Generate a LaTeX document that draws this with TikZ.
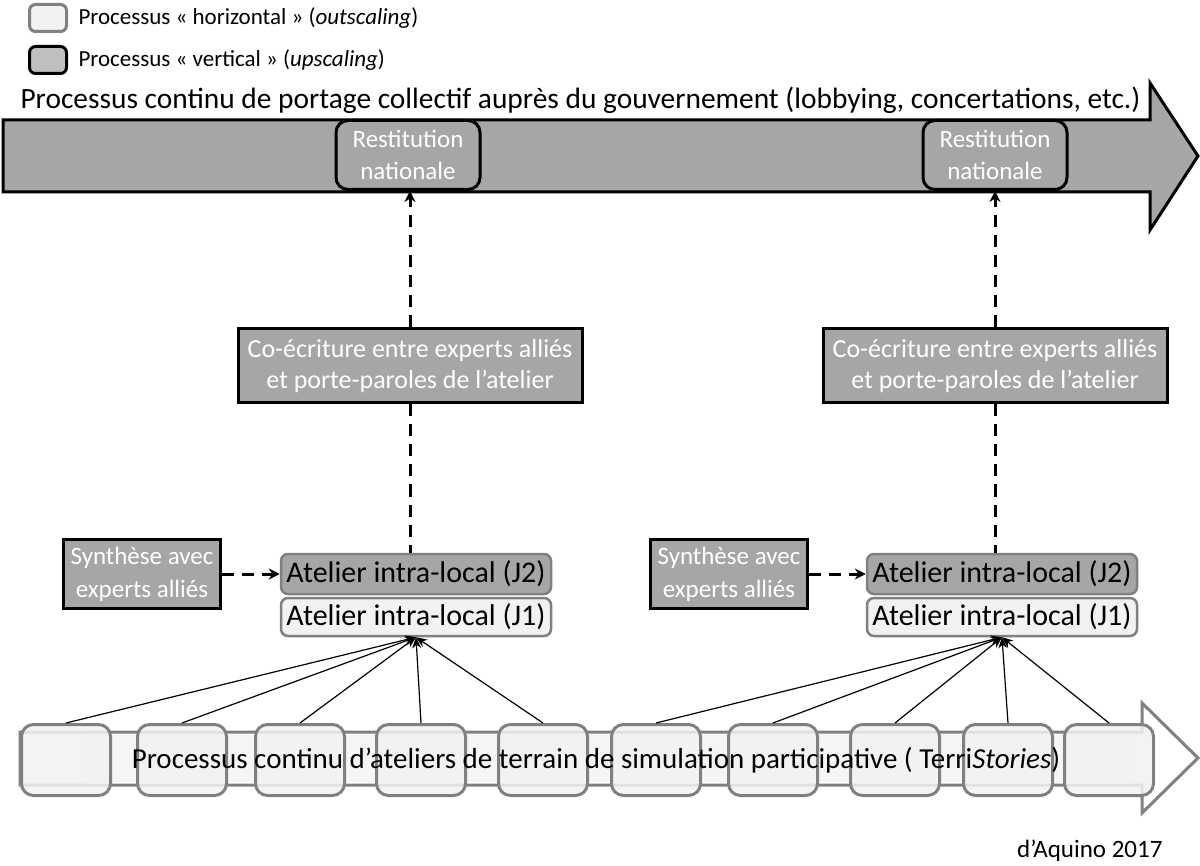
\documentclass[tikz,border=0pt]{standalone}
\usepackage{fontspec}
\setmainfont{Carlito}
\usepackage{xcolor}
\usepackage{tikz}
\usetikzlibrary{arrows.meta}

\definecolor{darkfill}{HTML}{A6A6A6}
\definecolor{legfill}{HTML}{BFBFBF}
\definecolor{lightfill}{HTML}{F2F2F2}
\definecolor{edgegray}{HTML}{808080}

\begin{document}
\begin{tikzpicture}[x=1pt,y=-1pt,
  vertbox/.style={draw=black, line width=3pt, fill=darkfill, text=white, align=center, inner sep=0pt, font=\fontsize{25}{32}\selectfont},
  atelier/.style={draw=edgegray, line width=2.5pt, rounded corners=7pt, inner sep=0pt, minimum width=270pt, font=\fontsize{30}{32}\selectfont},
  stepbox/.style={draw=edgegray, line width=3pt, fill=lightfill, fill opacity=0.85, rounded corners=12pt, minimum width=89pt, minimum height=71pt},
  dashline/.style={line width=3pt, dash pattern=on 12pt off 8pt},
  feed/.style={line width=1.2pt, -{Stealth[length=11pt,width=9pt]}}]
\useasboundingbox (0,0) rectangle (1200,866);

% legende
\node[draw=edgegray, line width=3pt, fill=lightfill, rounded corners=6pt, minimum width=37pt, minimum height=27pt] (legH) at (48,18) {};
\node[anchor=west, font=\fontsize{23}{26}\selectfont] (legHtxt) at (75,18) {Processus « horizontal » (\textit{outscaling})};
\node[draw=black, line width=3pt, fill=legfill, rounded corners=6pt, minimum width=37pt, minimum height=27pt] (legV) at (48,60) {};
\node[anchor=west, font=\fontsize{23}{26}\selectfont] (legVtxt) at (75,60) {Processus « vertical » (\textit{upscaling})};

% fleche du haut
\draw[line width=3pt, fill=darkfill, line join=miter] (3,120) -- (1150,120) -- (1150,83) -- (1198,156) -- (1150,230) -- (1150,192) -- (3,192) -- cycle;
\node[anchor=west, font=\fontsize{29.4}{32}\selectfont] (titre) at (17,100) {Processus continu de portage collectif auprès du gouvernement (lobbying, concertations, etc.)};

\node[vertbox, rounded corners=12pt, minimum width=144pt, minimum height=69pt] (restA) at (408,155) {Restitution\\nationale};
\node[vertbox, rounded corners=12pt, minimum width=144pt, minimum height=69pt] (restB) at (995,155) {Restitution\\nationale};

\node[vertbox, minimum width=344pt, minimum height=74pt, font=\fontsize{26}{31}\selectfont] (coecA) at (410,366) {Co-écriture entre experts alliés\\et porte-paroles de l’atelier};
\node[vertbox, minimum width=344pt, minimum height=74pt, font=\fontsize{26}{31}\selectfont] (coecB) at (995,366) {Co-écriture entre experts alliés\\et porte-paroles de l’atelier};

\node[vertbox, minimum width=157pt, minimum height=69pt, font=\fontsize{25}{33}\selectfont] (synA) at (142,574) {Synthèse avec\\experts alliés};
\node[vertbox, minimum width=157pt, minimum height=69pt, font=\fontsize{25}{33}\selectfont] (synB) at (729,574) {Synthèse avec\\experts alliés};

\node[atelier, fill=darkfill, minimum height=40pt] (jdeuxA) at (416,574) {Atelier intra-local (J2)};
\node[atelier, fill=lightfill, minimum height=38pt] (junA) at (416,617) {Atelier intra-local (J1)};
\node[atelier, fill=darkfill, minimum height=40pt] (jdeuxB) at (1002,574) {Atelier intra-local (J2)};
\node[atelier, fill=lightfill, minimum height=38pt] (junB) at (1002,617) {Atelier intra-local (J1)};

% liens verticaux
\draw[dashline] (coecA.south) -- (coecA.south |- jdeuxA.north);
\draw[dashline] (coecB.south) -- (coecB.south |- jdeuxB.north);
\draw[dashline, -{Stealth[length=11pt,width=11pt]}] (coecA.north) -- (coecA.north |- restA.south);
\draw[dashline, -{Stealth[length=11pt,width=11pt]}] (coecB.north) -- (coecB.north |- restB.south);
\draw[dashline, -{Stealth[length=11pt,width=11pt]}] (synA.east) -- (jdeuxA.west);
\draw[dashline, -{Stealth[length=11pt,width=11pt]}] (synB.east) -- (jdeuxB.west);

% fleche du bas
\draw[draw=edgegray, line width=3pt, fill=white, line join=miter] (20,732) -- (1142,732) -- (1142,703) -- (1198,758) -- (1142,813) -- (1142,785) -- (20,785) -- cycle;
\fill[white!96!black] (85,735) rectangle (1132,782);
\foreach \cx [count=\i] in {66,182,300,421,543,656,773,895,1008,1109}
  \node[stepbox] (t\i) at (\cx,760) {};
\node[font=\fontsize{29}{32}\selectfont] (terrain) at (596,760) {Processus continu d’ateliers de\ terrain de simulation participative ( Terri\textit{Stories})};

\foreach \i in {1,...,5}
  \draw[feed] (t\i.north) -- (junA.south);
\foreach \i in {6,...,10}
  \draw[feed] (t\i.north) -- (junB.south);

\node[anchor=east, font=\fontsize{25}{28}\selectfont] (source) at (1166,851) {d’Aquino 2017};
\end{tikzpicture}
\end{document}
